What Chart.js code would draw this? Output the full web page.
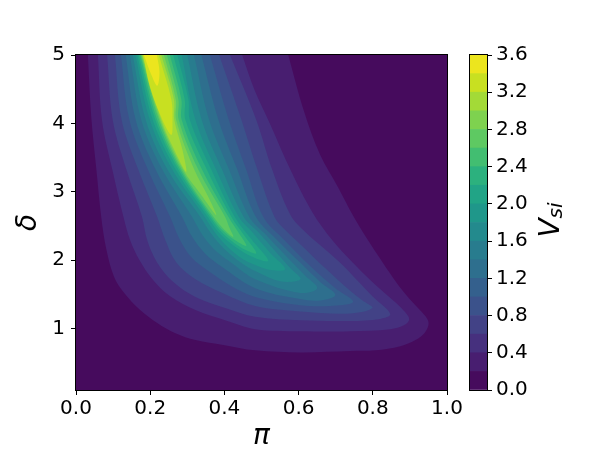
<!DOCTYPE html>
<html>
<head>
<meta charset="utf-8">
<script src="https://cdn.jsdelivr.net/npm/chart.js@4.4.0/dist/chart.umd.min.js"></script>
<style>
  html, body { margin: 0; padding: 0; background: #fff; }
  #wrap { position: relative; width: 600px; height: 459px; }
  #main { position: absolute; left: 0; top: 0; }
  #bar { position: absolute; left: 440px; top: 0; }
</style>
</head>
<body>
<div id="wrap">
  <canvas id="main" width="600" height="459"></canvas>
  <canvas id="bar" width="160" height="459"></canvas>
</div>
<script>
// contour levels (V_si) and colorbar band edges
const levels = [0.2, 0.4, 0.6, 0.8, 1.0, 1.2, 1.4, 1.6, 1.8, 2.0, 2.2, 2.4, 2.6, 2.8, 3.0, 3.2, 3.4];
const bandEdges = [0, 0.2, 0.4, 0.6, 0.8, 1.0, 1.2, 1.4, 1.6, 1.8, 2.0, 2.2, 2.4, 2.6, 2.8, 3.0, 3.2, 3.4, 3.6];
const piTicks = [0, 0.2, 0.4, 0.6, 0.8, 1.0];
const deltaTicks = [1, 2, 3, 4, 5];
const barTicks = [0, 0.4, 0.8, 1.2, 1.6, 2.0, 2.4, 2.8, 3.2, 3.6];

// outline of each region V_si >= level as [pi, delta]
const lev02 = [[0.032,5.00],[0.041,4.10],[0.055,3.32],[0.068,2.63],[0.082,2.15],[0.103,1.75],[0.130,1.52],[0.173,1.27],[0.219,1.08],[0.268,0.93],[0.322,0.83],[0.397,0.76],[0.483,0.68],[0.605,0.65],[0.739,0.67],[0.807,0.68],[0.874,0.74],[0.915,0.83],[0.939,0.93],[0.950,1.05],[0.947,1.14],[0.925,1.28],[0.890,1.49],[0.855,1.74],[0.820,2.02],[0.785,2.31],[0.747,2.65],[0.707,3.06],[0.658,3.54],[0.615,4.17],[0.572,5.00]];
const lev04 = [[0.059,5.00],[0.070,4.05],[0.098,3.32],[0.128,2.63],[0.146,2.29],[0.171,2.00],[0.206,1.72],[0.254,1.47],[0.322,1.27],[0.402,1.12],[0.483,0.99],[0.605,0.96],[0.739,0.96],[0.847,0.99],[0.885,1.05],[0.898,1.14],[0.880,1.28],[0.842,1.47],[0.793,1.71],[0.745,1.97],[0.691,2.29],[0.637,2.70],[0.578,3.32],[0.524,3.98],[0.481,4.49],[0.448,5.00]];
const lev06 = [[0.084,5.00],[0.099,4.05],[0.136,3.32],[0.178,2.63],[0.192,2.29],[0.219,1.96],[0.260,1.69],[0.322,1.46],[0.402,1.30],[0.483,1.17],[0.605,1.12],[0.739,1.11],[0.820,1.14],[0.847,1.21],[0.799,1.47],[0.755,1.72],[0.712,1.96],[0.664,2.19],[0.618,2.41],[0.578,2.66],[0.529,3.32],[0.486,4.05],[0.415,5.00]];
const lev08 = [[0.105,5.00],[0.123,4.05],[0.168,3.32],[0.219,2.63],[0.241,2.29],[0.270,1.97],[0.322,1.72],[0.402,1.50],[0.483,1.33],[0.605,1.25],[0.739,1.22],[0.799,1.30],[0.772,1.41],[0.739,1.55],[0.672,1.88],[0.605,2.23],[0.564,2.44],[0.535,2.63],[0.489,3.32],[0.446,4.05],[0.386,5.00]];
const lev10 = [[0.121,5.00],[0.144,4.05],[0.194,3.32],[0.254,2.63],[0.278,2.32],[0.311,2.04],[0.357,1.84],[0.416,1.63],[0.483,1.46],[0.605,1.34],[0.686,1.33],[0.747,1.39],[0.699,1.59],[0.632,1.91],[0.564,2.28],[0.505,2.63],[0.459,3.32],[0.412,4.05],[0.361,5.00]];
const lev12 = [[0.134,5.00],[0.161,4.05],[0.215,3.32],[0.286,2.63],[0.313,2.34],[0.349,2.09],[0.394,1.90],[0.483,1.59],[0.605,1.43],[0.658,1.41],[0.699,1.49],[0.658,1.68],[0.605,1.96],[0.537,2.32],[0.485,2.63],[0.435,3.32],[0.384,4.05],[0.338,5.00]];
const lev14 = [[0.145,5.00],[0.176,4.05],[0.233,3.32],[0.313,2.63],[0.343,2.35],[0.378,2.13],[0.424,1.94],[0.483,1.72],[0.605,1.52],[0.650,1.59],[0.618,1.77],[0.564,2.07],[0.510,2.38],[0.467,2.63],[0.413,3.32],[0.359,4.05],[0.318,5.00]];
const lev16 = [[0.153,5.00],[0.188,4.05],[0.247,3.32],[0.335,2.63],[0.365,2.38],[0.402,2.15],[0.443,1.97],[0.483,1.84],[0.551,1.69],[0.605,1.72],[0.578,1.88],[0.537,2.13],[0.491,2.41],[0.452,2.63],[0.394,3.32],[0.339,4.05],[0.300,5.00]];
const lev18 = [[0.160,5.00],[0.199,4.05],[0.260,3.32],[0.347,2.63],[0.375,2.40],[0.411,2.18],[0.448,2.02],[0.483,1.93],[0.529,1.85],[0.564,1.87],[0.524,2.10],[0.475,2.41],[0.439,2.63],[0.378,3.32],[0.322,4.05],[0.285,5.00]];
const lev20 = [[0.165,5.00],[0.207,4.05],[0.269,3.32],[0.355,2.63],[0.384,2.41],[0.416,2.25],[0.470,2.06],[0.518,1.99],[0.475,2.29],[0.428,2.63],[0.365,3.32],[0.307,4.05],[0.303,4.35],[0.273,5.00]];
const lev22 = [[0.169,5.00],[0.214,4.05],[0.276,3.32],[0.361,2.63],[0.389,2.43],[0.424,2.26],[0.456,2.15],[0.486,2.10],[0.456,2.34],[0.419,2.63],[0.353,3.32],[0.295,4.05],[0.293,4.35],[0.262,5.00]];
const lev24 = [[0.173,5.00],[0.219,4.05],[0.281,3.32],[0.366,2.63],[0.394,2.44],[0.429,2.29],[0.459,2.21],[0.437,2.41],[0.411,2.63],[0.340,3.32],[0.285,4.05],[0.284,4.35],[0.253,5.00]];
const lev26 = [[0.175,5.00],[0.224,4.05],[0.285,3.32],[0.371,2.63],[0.397,2.46],[0.424,2.34],[0.413,2.48],[0.402,2.63],[0.330,3.32],[0.277,4.05],[0.276,4.35],[0.245,5.00]];
const lev28 = [[0.177,5.00],[0.227,4.05],[0.289,3.32],[0.338,2.95],[0.378,2.66],[0.357,2.92],[0.319,3.32],[0.270,4.05],[0.269,4.35],[0.237,5.00]];
const lev30 = [[0.179,5.00],[0.230,4.05],[0.265,3.61],[0.297,3.29],[0.287,3.61],[0.265,4.05],[0.264,4.35],[0.230,5.00]];
const lev32 = [[0.181,5.00],[0.200,4.52],[0.233,4.05],[0.257,3.83],[0.260,4.05],[0.257,4.35],[0.223,5.00]];
const lev34 = [[0.183,5.00],[0.203,4.71],[0.219,4.55],[0.225,4.75],[0.218,5.00]];

const outlines = [lev02, lev04, lev06, lev08, lev10, lev12, lev14, lev16, lev18,
                  lev20, lev22, lev24, lev26, lev28, lev30, lev32, lev34];

// viridis, sampled every 0.05
const viridisStops = ['#440154','#471365','#482475','#463480','#414487','#3b528b','#355f8d',
  '#2f6c8e','#2a788e','#25848e','#21918c','#1e9c89','#22a884','#2fb47c','#44bf70',
  '#5ec962','#7ad151','#9bd93c','#bddf26','#dfe318','#fde725'];

function hexRgb(h) {
  return [parseInt(h.slice(1, 3), 16), parseInt(h.slice(3, 5), 16), parseInt(h.slice(5, 7), 16)];
}
function viridis(t) {
  const s = t * 20;
  const i = Math.min(19, Math.floor(s));
  const f = s - i;
  const a = hexRgb(viridisStops[i]), b = hexRgb(viridisStops[i + 1]);
  const c = a.map((v, k) => Math.round(v + (b[k] - v) * f));
  return 'rgb(' + c.join(',') + ')';
}
function bandColor(k) {
  return viridis((k + 0.5) / (bandEdges.length - 1));
}

Chart.defaults.font.family = '"DejaVu Sans", sans-serif';
Chart.defaults.color = '#000';
Chart.defaults.animation = false;

const fillBackground = {
  id: 'fillBackground',
  beforeDatasetsDraw(chart) {
    const a = chart.chartArea;
    chart.ctx.save();
    chart.ctx.fillStyle = bandColor(0);
    chart.ctx.fillRect(a.left, a.top, a.right - a.left, a.bottom - a.top);
    chart.ctx.restore();
  }
};

const frame = {
  id: 'frame',
  afterDatasetsDraw(chart) {
    const a = chart.chartArea;
    const ctx = chart.ctx;
    ctx.save();
    ctx.strokeStyle = '#000';
    ctx.lineWidth = 1;
    ctx.strokeRect(a.left - 0.5, a.top - 0.5, a.right - a.left + 1, a.bottom - a.top + 1);
    ctx.restore();
  }
};

const tickGrid = {
  display: true,
  drawOnChartArea: false,
  drawTicks: true,
  tickLength: 5,
  color: '#000',
  lineWidth: 1
};

const datasets = outlines.map((pts, i) => ({
  label: 'V >= ' + levels[i],
  data: pts.map(p => ({ x: p[0], y: p[1] })),
  backgroundColor: bandColor(i + 1),
  borderWidth: 0,
  pointRadius: 0,
  fill: 'shape',
  tension: 0.35,
  order: outlines.length - i
}));

new Chart(document.getElementById('main'), {
  type: 'line',
  data: { datasets: datasets },
  options: {
    responsive: false,
    layout: { padding: { left: 0, right: 153, top: 55, bottom: 0 } },
    plugins: { legend: { display: false }, tooltip: { enabled: false } },
    scales: {
      x: {
        type: 'linear',
        min: 0,
        max: 1,
        grid: tickGrid,
        border: { display: false },
        afterBuildTicks: axis => { axis.ticks = piTicks.map(v => ({ value: v })); },
        afterFit: axis => { axis.height = 69; },
        ticks: { font: { size: 20 }, padding: 2, maxRotation: 0, callback: v => v.toFixed(1) },
        title: { display: true, text: 'π', font: { size: 28, style: 'italic' }, padding: { top: 0, bottom: 5 } }
      },
      y: {
        type: 'linear',
        min: 0.1,
        max: 5,
        grid: tickGrid,
        border: { display: false },
        afterBuildTicks: axis => { axis.ticks = deltaTicks.map(v => ({ value: v })); },
        afterFit: axis => { axis.width = 76; },
        ticks: { font: { size: 20 }, padding: 6, callback: v => String(v) },
        title: { display: true, text: 'δ', font: { size: 28, style: 'italic' }, padding: { top: 12, bottom: 0 } }
      }
    }
  },
  plugins: [fillBackground, frame]
});

// colorbar
const vsiLabel = {
  id: 'vsiLabel',
  afterDraw(chart) {
    const ctx = chart.ctx;
    ctx.save();
    ctx.translate(108, 220);
    ctx.rotate(-Math.PI / 2);
    ctx.fillStyle = '#000';
    ctx.textBaseline = 'alphabetic';
    ctx.font = 'italic 28px "DejaVu Sans"';
    const wV = ctx.measureText('V').width;
    ctx.font = 'italic 20px "DejaVu Sans"';
    const wS = ctx.measureText('si').width;
    const x0 = -(wV + wS) / 2;
    ctx.font = 'italic 28px "DejaVu Sans"';
    ctx.fillText('V', x0, 11);
    ctx.font = 'italic 20px "DejaVu Sans"';
    ctx.fillText('si', x0 + wV, 14);
    ctx.restore();
  }
};

const barSets = bandEdges.slice(1).map((top, k) => ({
  data: [top - bandEdges[k]],
  backgroundColor: bandColor(k),
  borderWidth: 0,
  barPercentage: 1,
  categoryPercentage: 1
}));

new Chart(document.getElementById('bar'), {
  type: 'bar',
  data: { labels: [''], datasets: barSets },
  options: {
    responsive: false,
    layout: { padding: { left: 30, right: 0, top: 55, bottom: 69 } },
    plugins: { legend: { display: false }, tooltip: { enabled: false } },
    scales: {
      x: { display: false, stacked: true },
      y: {
        stacked: true,
        position: 'right',
        min: 0,
        max: 3.6,
        grid: tickGrid,
        border: { display: false },
        afterBuildTicks: axis => { axis.ticks = barTicks.map(v => ({ value: v })); },
        afterFit: axis => { axis.width = 113; },
        ticks: { font: { size: 20 }, padding: 4, callback: v => v.toFixed(1) }
      }
    }
  },
  plugins: [frame, vsiLabel]
});
</script>
</body>
</html>
